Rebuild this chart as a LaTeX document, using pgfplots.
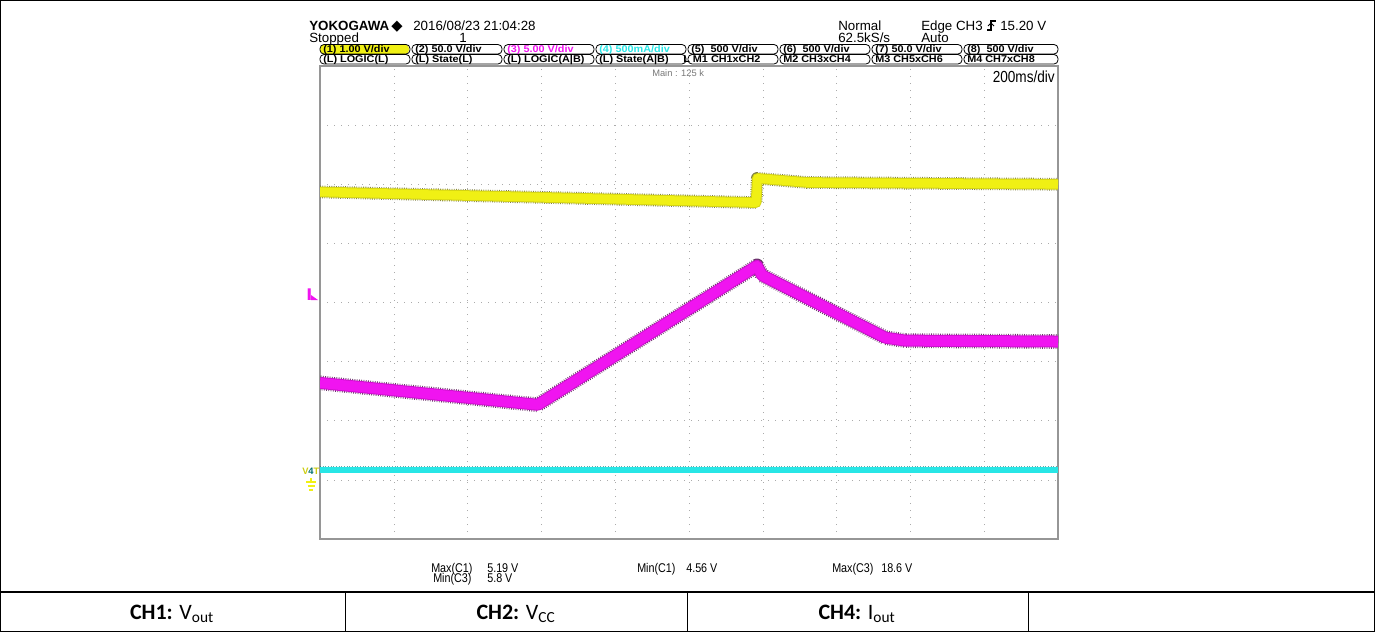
\documentclass[border=0pt]{standalone}
\usepackage{fontspec}
\setmainfont{Liberation Sans}
\newfontfamily\narrowf[FakeStretch=0.85]{Liberation Sans}
\newfontfamily\widef[FakeStretch=1.1]{Liberation Sans}
\newfontfamily\symf{DejaVu Sans}
\newfontfamily\tabf{Carlito}
\usepackage{pgfplots}
\usepackage{pgfplotstable}
\pgfplotsset{compat=1.18}

\definecolor{chY}{RGB}{240,240,20}
\definecolor{chYd}{RGB}{95,95,20}
\definecolor{chM}{RGB}{240,20,240}
\definecolor{chMd}{RGB}{70,0,70}
\definecolor{chC}{RGB}{40,230,230}
\definecolor{chCd}{RGB}{0,110,110}
\definecolor{scgray}{RGB}{150,150,150}

% traces, in divisions (x: 0..10, y: -4..4)
\pgfplotstableread{
x y
0     1.87
5.91  1.69
5.925 2.10
6.6   2.03
10    2.00
}\chone
\pgfplotstableread{
x y
0     -1.36
2.95  -1.73
5.92   0.62
5.99   0.46
7.66  -0.595
7.93  -0.645
10    -0.66
}\chthree
\pgfplotstableread{
x y
0   -2.83
10  -2.83
}\chfour

\begin{document}
\begin{tikzpicture}
\begin{scope}[x=0.75pt,y=-0.75pt]
  \useasboundingbox (0,0) rectangle (1375,632);
  % frame and table
  \draw[line width=0.75pt] (0.5,0.5) rectangle (1374.5,631.5);
  \draw[line width=1.6pt] (0,592) -- (1375,592);
  \foreach \xx in {345,687,1028} \draw[line width=0.75pt] (\xx,592) -- (\xx,632);
  \node[font=\tabf\fontsize{16.5}{18}\selectfont] at (172,614) {\textbf{CH1:} V\textsubscript{out}};
  \node[font=\tabf\fontsize{16.5}{18}\selectfont] at (516,614) {\textbf{CH2:} V\textsubscript{CC}};
  \node[font=\tabf\fontsize{16.5}{18}\selectfont] at (857,614) {\textbf{CH4:} I\textsubscript{out}};
  % header
  \node[anchor=base west, inner sep=0pt, font=\bfseries\fontsize{10}{12}\selectfont] at (309,30) {YOKOGAWA};
  \node[anchor=base west, inner sep=0pt, font=\symf\fontsize{11}{12}\selectfont] at (391,30) {◆};
  \node[anchor=base west, inner sep=0pt, font=\fontsize{10}{11}\selectfont] at (413,30) {2016/08/23 21:04:28};
  \node[anchor=base west, inner sep=0pt, font=\fontsize{10}{11}\selectfont] at (309,42) {Stopped};
  \node[anchor=base west, inner sep=0pt, font=\fontsize{10}{11}\selectfont] at (459,42) {1};
  \node[anchor=base west, inner sep=0pt, font=\fontsize{10}{11}\selectfont] at (838,30) {Normal};
  \node[anchor=base west, inner sep=0pt, font=\fontsize{10}{11}\selectfont] at (838,42) {62.5kS/s};
  \node[anchor=base west, inner sep=0pt, font=\fontsize{10}{11}\selectfont] at (921,30) {Edge CH3};
  \draw[line width=0.9pt] (987,30) -- (991,30) -- (991,21) -- (996,21);
  \draw[line width=0.7pt] (988,26) -- (991,23) -- (994,26);
  \node[anchor=base west, inner sep=0pt, font=\fontsize{10}{11}\selectfont] at (1000,30) {15.20 V};
  \node[anchor=base west, inner sep=0pt, font=\fontsize{10}{11}\selectfont] at (921,42) {Auto};
  % channel boxes
  \fill[chY, rounded corners=3pt] (320,44.5) rectangle (409,54);
  \foreach \xx/\ww in {320/90,412/90,504/90,596/90,688/90,780/90,872/90,964/94}{
    \draw[line width=0.6pt, rounded corners=3pt] (\xx,44.5) rectangle (\xx+\ww,54);
    \draw[line width=0.6pt, rounded corners=3pt] (\xx,54.5) rectangle (\xx+\ww,64);
  }
  \begin{scope}[every node/.style={anchor=base west, inner sep=0pt, font=\widef\bfseries\fontsize{7.4}{8}\selectfont}]
    \node at (323,52.5) {(1) 1.00 V/div};
    \node at (415,52.5) {(2) 50.0 V/div};
    \node[text=chM] at (507,52.5) {(3) 5.00 V/div};
    \node[text=chC] at (599,52.5) {(4) 500mA/div};
    \node at (691,52.5) {(5)\ \ 500 V/div};
    \node at (783,52.5) {(6)\ \ 500 V/div};
    \node at (875,52.5) {(7) 50.0 V/div};
    \node at (967,52.5) {(8)\ \ 500 V/div};
    \node at (323,62.5) {(L) LOGIC(L)};
    \node at (415,62.5) {(L) State(L)};
    \node at (507,62.5) {(L) LOGIC(A|B)};
    \node at (599,62.5) {(L) State(A|B)};
    \node at (683,62.5) {L M1 CH1xCH2};
    \node at (783,62.5) {M2 CH3xCH4};
    \node at (875,62.5) {M3 CH5xCH6};
    \node at (967,62.5) {M4 CH7xCH8};
  \end{scope}
  \node[anchor=base west, inner sep=0pt, text=scgray!80!black, font=\fontsize{7}{8}\selectfont] at (652,76) {Main : 125 k};
  \node[anchor=base east, inner sep=0pt, font=\narrowf\fontsize{12}{13}\selectfont] at (1055,82) {200ms/div};
  % left markers
  \node[anchor=base west, inner sep=0pt, text=chM, font=\symf\bfseries\fontsize{12}{12}\selectfont] at (306,300) {I};
  \fill[chM] (311,300) -- (318,300) -- (311,295) -- cycle;
  \node[anchor=base west, inner sep=0pt, font=\bfseries\fontsize{7}{8}\selectfont] at (302,474) {\textcolor{chY!85!black}{V}\textcolor{chCd}{4}\textcolor{chY!85!black}{T}};
  \draw[chY, line width=0.8pt] (311,478) -- (311,482) (306,482) -- (316,482) (307.5,486) -- (314.5,486) (309,490) -- (313,490);
  % measurements
  \begin{scope}[every node/.style={anchor=base west, inner sep=0pt, font=\narrowf\fontsize{9.5}{10}\selectfont}]
    \node at (431,572) {Max(C1)};
    \node at (487,572) {5.19 V};
    \node at (433,582) {Min(C3)};
    \node at (487,582) {5.8 V};
    \node at (637,572) {Min(C1)};
    \node at (686,572) {4.56 V};
    \node at (832,572) {Max(C3)};
    \node at (881,572) {18.6 V};
  \end{scope}
\end{scope}
\begin{axis}[
  at={(240pt,-404.25pt)}, anchor=south west,
  width=553.5pt, height=354.75pt, scale only axis,
  xmin=0, xmax=10, ymin=-4, ymax=4,
  xtick={1,...,9}, ytick={-3,...,3},
  xticklabels={}, yticklabels={},
  major tick length=0pt,
  grid=major,
  grid style={scgray!80, dash pattern=on 0.75pt off 4.5pt},
  axis line style={scgray, line width=1.1pt},
  clip=true]
  \addplot[chYd, line width=9.5pt, line join=round, dash pattern=on 0.6pt off 1.1pt, opacity=0.8] table {\chone};
  \addplot[chY!80!chYd, line width=8pt, line join=round] table {\chone};
  \addplot[chY, line width=6.5pt, line join=round] table {\chone};
  \addplot[chMd, line width=11pt, line join=round, dash pattern=on 0.6pt off 1.1pt, opacity=0.8] table {\chthree};
  \addplot[chM!80!chMd, line width=9pt, line join=round] table {\chthree};
  \addplot[chM, line width=7.5pt, line join=round] table {\chthree};
  \addplot[chCd, line width=5.5pt, dash pattern=on 0.6pt off 1.4pt, opacity=0.6] table {\chfour};
  \addplot[chC, line width=4.2pt] table {\chfour};
\end{axis}
\end{tikzpicture}
\end{document}
